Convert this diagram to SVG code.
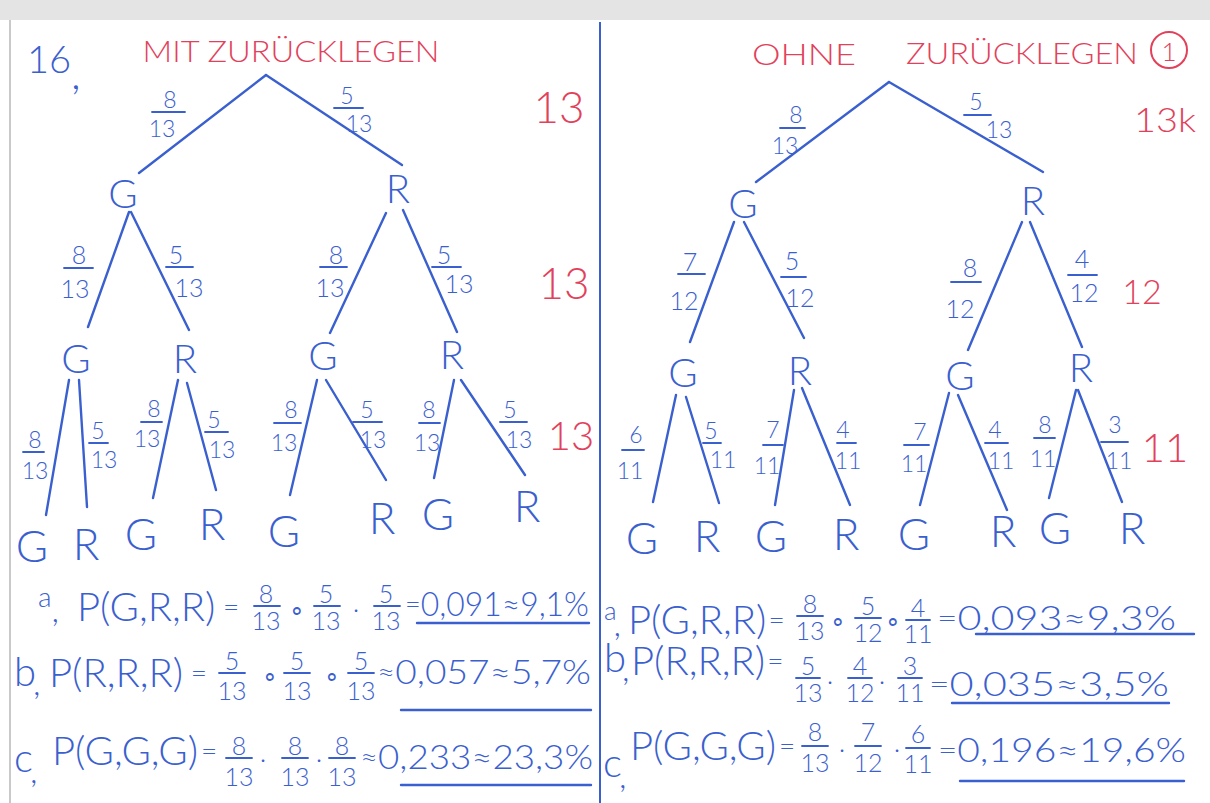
<svg xmlns="http://www.w3.org/2000/svg" width="1210" height="803" viewBox="0 0 1210 803">
<style>
text{font-family:Lato,"Liberation Sans",sans-serif;font-weight:300;text-anchor:middle;dominant-baseline:central}
.s{text-anchor:start}
.b{fill:#3a60cf}
.r{fill:#e2415b}
.n{font-size:40px}
.lf{font-size:44px}
.f{font-size:23px}
.ff{font-size:25px}
.eq{font-size:28px}
.big{font-size:40px}
.res{font-size:33px}
.hk{font-size:34px}
.ln{stroke:#3a60cf;stroke-width:2.4;stroke-linecap:round;fill:none}
.bar{stroke:#3a60cf;stroke-width:1.8;stroke-linecap:round}
.rt{font-size:30px}
</style>
<rect x="0" y="0" width="1210" height="803" fill="#ffffff"/>
<rect x="0" y="0" width="1210" height="20" fill="#e4e4e4"/>
<line x1="10" y1="20" x2="10" y2="803" stroke="#c9c9c9" stroke-width="2"/>
<line x1="600" y1="22" x2="600" y2="803" stroke="#3a60cf" stroke-width="2"/>

<!-- headers -->
<g id="header-left">
<text class="b s" x="27" y="58" style="font-size:38px">16<tspan style="font-size:44px" dy="14">,</tspan></text>
<text class="r rt" x="291" y="50" textLength="297" lengthAdjust="spacingAndGlyphs">MIT ZURÜCKLEGEN</text>
<text class="r" x="559" y="106" style="font-size:44px">13</text>
<text class="r" x="564" y="282" style="font-size:44px">13</text>
<text class="r" x="571" y="435" style="font-size:40px">13</text>
</g>
<g id="header-right">
<text class="r rt" x="804" y="53" textLength="104" lengthAdjust="spacingAndGlyphs">OHNE</text>
<text class="r rt" x="1022" y="52" textLength="232" lengthAdjust="spacingAndGlyphs">ZURÜCKLEGEN</text>
<circle cx="1169" cy="50" r="18" fill="none" stroke="#e2415b" stroke-width="2"/>
<text class="r" x="1169" y="51" style="font-size:26px">1</text>
<text class="r" x="1165" y="118" style="font-size:34px" textLength="62" lengthAdjust="spacingAndGlyphs">13k</text>
<text class="r" x="1142" y="290" style="font-size:34px">12</text>
<text class="r" x="1165" y="447" style="font-size:40px">11</text>
</g>

<!-- connectors -->
<g id="connectors" class="ln">
<line x1="266" y1="75" x2="139" y2="173"/>
<line x1="266" y1="75" x2="402" y2="165"/>
<line x1="129" y1="212" x2="88" y2="327"/>
<line x1="131" y1="212" x2="189" y2="330"/>
<line x1="386" y1="213" x2="330" y2="333"/>
<line x1="403" y1="210" x2="457" y2="332"/>
<line x1="69" y1="380" x2="46" y2="515"/>
<line x1="79" y1="380" x2="87" y2="507"/>
<line x1="178" y1="380" x2="153" y2="498"/>
<line x1="187" y1="383" x2="216" y2="490"/>
<line x1="317" y1="380" x2="290" y2="495"/>
<line x1="326" y1="380" x2="386" y2="480"/>
<line x1="454" y1="380" x2="434" y2="478"/>
<line x1="461" y1="380" x2="525" y2="475"/>
<line x1="889" y1="82" x2="756" y2="182"/>
<line x1="889" y1="82" x2="1043" y2="172"/>
<line x1="734" y1="222" x2="690" y2="342"/>
<line x1="744" y1="222" x2="804" y2="338"/>
<line x1="1022" y1="222" x2="968" y2="350"/>
<line x1="1030" y1="222" x2="1082" y2="347"/>
<line x1="676" y1="395" x2="653" y2="502"/>
<line x1="686" y1="397" x2="719" y2="503"/>
<line x1="794" y1="390" x2="775" y2="505"/>
<line x1="802" y1="388" x2="850" y2="505"/>
<line x1="949" y1="393" x2="920" y2="505"/>
<line x1="958" y1="395" x2="1007" y2="510"/>
<line x1="1076" y1="390" x2="1049" y2="498"/>
<line x1="1078" y1="390" x2="1122" y2="502"/>
</g>

<!-- branch labels -->
<g id="labels-left" class="b f">
<text x="170" y="99">8<tspan x="162" dy="29">13</tspan></text><line class="bar" x1="152" y1="112" x2="185" y2="112"/>
<text x="347" y="95">5<tspan x="359" dy="28">13</tspan></text><line class="bar" x1="334" y1="108" x2="363" y2="108"/>
<text x="79" y="254" class="ff">8<tspan x="75" dy="34">13</tspan></text><line class="bar" x1="64" y1="268" x2="93" y2="268"/>
<text x="176" y="254" class="ff">5<tspan x="189" dy="33">13</tspan></text><line class="bar" x1="166" y1="267" x2="193" y2="267"/>
<text x="336" y="254" class="ff">8<tspan x="330" dy="33">13</tspan></text><line class="bar" x1="320" y1="267" x2="347" y2="267"/>
<text x="444" y="254" class="ff">5<tspan x="459" dy="29">13</tspan></text><line class="bar" x1="432" y1="267" x2="461" y2="267"/>
<text x="35" y="439">8<tspan x="35" dy="31">13</tspan></text><line class="bar" x1="23" y1="452" x2="44" y2="452"/>
<text x="98" y="430">5<tspan x="104" dy="29">13</tspan></text><line class="bar" x1="89" y1="443" x2="108" y2="443"/>
<text x="154" y="408">8<tspan x="147" dy="30">13</tspan></text><line class="bar" x1="141" y1="422" x2="162" y2="422"/>
<text x="214" y="419">5<tspan x="222" dy="30">13</tspan></text><line class="bar" x1="205" y1="432" x2="228" y2="432"/>
<text x="291" y="409">8<tspan x="284" dy="33">13</tspan></text><line class="bar" x1="274" y1="423" x2="301" y2="423"/>
<text x="367" y="409">5<tspan x="373" dy="30">13</tspan></text><line class="bar" x1="353" y1="422" x2="382" y2="422"/>
<text x="429" y="409">8<tspan x="427" dy="33">13</tspan></text><line class="bar" x1="419" y1="423" x2="440" y2="423"/>
<text x="510" y="409">5<tspan x="519" dy="30">13</tspan></text><line class="bar" x1="500" y1="422" x2="527" y2="422"/>
</g>
<g id="labels-right" class="b f">
<text x="796" y="114">8<tspan x="785" dy="31">13</tspan></text><line class="bar" x1="780" y1="128" x2="805" y2="128"/>
<text x="976" y="101">5<tspan x="999" dy="28">13</tspan></text><line class="bar" x1="964" y1="115" x2="991" y2="115"/>
<text x="690" y="261" class="ff">7<tspan x="684" dy="39">12</tspan></text><line class="bar" x1="678" y1="274" x2="705" y2="274"/>
<text x="792" y="260" class="ff">5<tspan x="800" dy="37">12</tspan></text><line class="bar" x1="781" y1="277" x2="806" y2="277"/>
<text x="970" y="267" class="ff">8<tspan x="960" dy="41">12</tspan></text><line class="bar" x1="951" y1="282" x2="981" y2="282"/>
<text x="1082" y="258" class="ff">4<tspan x="1084" dy="34">12</tspan></text><line class="bar" x1="1068" y1="275" x2="1097" y2="275"/>
<text x="636" y="434">6<tspan x="630" dy="36">11</tspan></text><line class="bar" x1="622" y1="450" x2="644" y2="450"/>
<text x="711" y="430">5<tspan x="723" dy="29">11</tspan></text><line class="bar" x1="703" y1="443" x2="721" y2="443"/>
<text x="773" y="429">7<tspan x="767" dy="36">11</tspan></text><line class="bar" x1="763" y1="445" x2="783" y2="445"/>
<text x="843" y="429">4<tspan x="848" dy="31">11</tspan></text><line class="bar" x1="837" y1="443" x2="856" y2="443"/>
<text x="920" y="431">7<tspan x="914" dy="32">11</tspan></text><line class="bar" x1="904" y1="445" x2="929" y2="445"/>
<text x="995" y="429">4<tspan x="1001" dy="31">11</tspan></text><line class="bar" x1="985" y1="443" x2="1008" y2="443"/>
<text x="1045" y="424">8<tspan x="1043" dy="34">11</tspan></text><line class="bar" x1="1034" y1="438" x2="1055" y2="438"/>
<text x="1115" y="424">3<tspan x="1119" dy="36">11</tspan></text><line class="bar" x1="1101" y1="442" x2="1128" y2="442"/>
</g>

<!-- nodes left -->
<g id="L-G" class="b n"><text x="123" y="193">G</text></g>
<g id="L-R" class="b n"><text x="398" y="188">R</text></g>
<g id="L-GG" class="b n"><text x="76" y="358">G</text></g>
<g id="L-GR" class="b n"><text x="185" y="358">R</text></g>
<g id="L-RG" class="b n"><text x="323" y="355">G</text></g>
<g id="L-RR" class="b n"><text x="452" y="354">R</text></g>
<g id="L-GGG" class="b lf"><text x="32" y="545">G</text></g>
<g id="L-GGR" class="b lf"><text x="86" y="543">R</text></g>
<g id="L-GRG" class="b lf"><text x="141" y="533">G</text></g>
<g id="L-GRR" class="b lf"><text x="212" y="523">R</text></g>
<g id="L-RGG" class="b lf"><text x="284" y="530">G</text></g>
<g id="L-RGR" class="b lf"><text x="382" y="517">R</text></g>
<g id="L-RRG" class="b lf"><text x="438" y="513">G</text></g>
<g id="L-RRR" class="b lf"><text x="527" y="505">R</text></g>

<!-- nodes right -->
<g id="R-G" class="b n"><text x="743" y="203">G</text></g>
<g id="R-R" class="b n"><text x="1033" y="200">R</text></g>
<g id="R-GG" class="b n"><text x="683" y="372">G</text></g>
<g id="R-GR" class="b n"><text x="800" y="370">R</text></g>
<g id="R-RG" class="b n"><text x="960" y="375">G</text></g>
<g id="R-RR" class="b n"><text x="1081" y="367">R</text></g>
<g id="R-GGG" class="b lf"><text x="642" y="537">G</text></g>
<g id="R-GGR" class="b lf"><text x="707" y="535">R</text></g>
<g id="R-GRG" class="b lf"><text x="771" y="535">G</text></g>
<g id="R-GRR" class="b lf"><text x="846" y="533">R</text></g>
<g id="R-RGG" class="b lf"><text x="914" y="533">G</text></g>
<g id="R-RGR" class="b lf"><text x="1003" y="530">R</text></g>
<g id="R-RRG" class="b lf"><text x="1055" y="527">G</text></g>
<g id="R-RRR" class="b lf"><text x="1132" y="527">R</text></g>

<!-- formulas left -->
<g id="formula-left-a" class="b">
<text class="s" x="38" y="596" style="font-size:28px">a<tspan class="hk" dy="12">,</tspan><tspan class="big" x="77" dy="-2">P(G,R,R)</tspan><tspan class="eq"> =</tspan></text>
<text class="ff" x="266" y="593">8<tspan x="266" dy="27">13</tspan></text><line class="bar" x1="254" y1="606" x2="280" y2="606"/>
<text class="ff" x="297" y="608">∘</text>
<text class="ff" x="326" y="593">5<tspan x="326" dy="27">13</tspan></text><line class="bar" x1="314" y1="606" x2="340" y2="606"/>
<text class="ff" x="356" y="608">·</text>
<text class="ff" x="386" y="593">5<tspan x="386" dy="27">13</tspan></text><line class="bar" x1="374" y1="606" x2="400" y2="606"/>
<text class="res s" x="405" y="603" textLength="184" lengthAdjust="spacingAndGlyphs"><tspan class="eq">=</tspan>0,091≈9,1%</text>
<line class="ln" x1="417" y1="623" x2="589" y2="623"/>
</g>
<g id="formula-left-b" class="b">
<text class="big s" x="14" y="671">b<tspan class="hk" dx="-3" dy="10">,</tspan><tspan x="49" dy="-9">P(R,R,R)</tspan><tspan class="eq"> =</tspan></text>
<text class="ff" x="232" y="660">5<tspan x="232" dy="30">13</tspan></text><line class="bar" x1="219" y1="673" x2="245" y2="673"/>
<text class="ff" x="270" y="674">∘</text>
<text class="ff" x="297" y="660">5<tspan x="297" dy="30">13</tspan></text><line class="bar" x1="284" y1="673" x2="310" y2="673"/>
<text class="ff" x="332" y="674">∘</text>
<text class="ff" x="361" y="660">5<tspan x="361" dy="30">13</tspan></text><line class="bar" x1="348" y1="673" x2="374" y2="673"/>
<text class="res s" x="377" y="671" textLength="214" lengthAdjust="spacingAndGlyphs"><tspan class="eq">≈</tspan>0,057≈5,7%</text>
<line class="ln" x1="401" y1="710" x2="591" y2="710"/>
</g>
<g id="formula-left-c" class="b">
<text class="big s" x="14" y="757">c<tspan class="hk" dx="-3" dy="12">,</tspan><tspan x="52" dy="-19">P(G,G,G)</tspan><tspan class="eq" dx="3">=</tspan></text>
<text class="ff" x="239" y="745">8<tspan x="239" dy="31">13</tspan></text><line class="bar" x1="226" y1="758" x2="252" y2="758"/>
<text class="ff" x="263" y="758">·</text>
<text class="ff" x="295" y="745">8<tspan x="295" dy="31">13</tspan></text><line class="bar" x1="282" y1="758" x2="308" y2="758"/>
<text class="ff" x="319" y="758">·</text>
<text class="ff" x="342" y="745">8<tspan x="342" dy="31">13</tspan></text><line class="bar" x1="329" y1="758" x2="355" y2="758"/>
<text class="res s" x="360" y="756" textLength="233" lengthAdjust="spacingAndGlyphs"><tspan class="eq">≈</tspan>0,233≈23,3%</text>
<line class="ln" x1="401" y1="785" x2="591" y2="785"/>
</g>

<!-- formulas right -->
<g id="formula-right-a" class="b">
<text class="s" x="604" y="610" style="font-size:26px">a<tspan class="hk" dx="-3" dy="12">,</tspan><tspan class="big" x="628" dy="-3">P(G,R,R)</tspan><tspan class="eq" dx="2">=</tspan></text>
<text class="ff" x="810" y="603">8<tspan x="810" dy="27">13</tspan></text><line class="bar" x1="797" y1="616" x2="823" y2="616"/>
<text class="ff" x="838" y="619">∘</text>
<text class="ff" x="868" y="605">5<tspan x="868" dy="27">12</tspan></text><line class="bar" x1="855" y1="618" x2="881" y2="618"/>
<text class="ff" x="893" y="619">∘</text>
<text class="ff" x="918" y="607">4<tspan x="918" dy="26">11</tspan></text><line class="bar" x1="906" y1="620" x2="930" y2="620"/>
<text class="res s" x="937" y="617" textLength="239" lengthAdjust="spacingAndGlyphs"><tspan class="eq">=</tspan>0,093≈9,3%</text>
<line class="ln" x1="976" y1="634" x2="1194" y2="634"/>
</g>
<g id="formula-right-b" class="b">
<text class="big s" x="604" y="657">b<tspan class="hk" dx="-4" dy="10">,</tspan><tspan x="631" dy="-7">P(R,R,R)</tspan><tspan class="eq" dx="2">=</tspan></text>
<text class="ff" x="808" y="665">5<tspan x="808" dy="27">13</tspan></text><line class="bar" x1="796" y1="678" x2="820" y2="678"/>
<text class="ff" x="830" y="680">·</text>
<text class="ff" x="860" y="665">4<tspan x="860" dy="27">12</tspan></text><line class="bar" x1="848" y1="678" x2="872" y2="678"/>
<text class="ff" x="882" y="680">·</text>
<text class="ff" x="910" y="665">3<tspan x="910" dy="27">11</tspan></text><line class="bar" x1="898" y1="678" x2="922" y2="678"/>
<text class="res s" x="929" y="683" textLength="240" lengthAdjust="spacingAndGlyphs"><tspan class="eq">=</tspan>0,035≈3,5%</text>
<line class="ln" x1="952" y1="703" x2="1169" y2="703"/>
</g>
<g id="formula-right-c" class="b">
<text class="big s" x="603" y="762">c<tspan class="hk" dx="-3" dy="12">,</tspan><tspan x="630" dy="-29">P(G,G,G)</tspan><tspan class="eq" dx="3">=</tspan></text>
<text class="ff" x="815" y="731">8<tspan x="815" dy="31">13</tspan></text><line class="bar" x1="802" y1="746" x2="828" y2="746"/>
<text class="ff" x="842" y="748">·</text>
<text class="ff" x="868" y="731">7<tspan x="868" dy="31">12</tspan></text><line class="bar" x1="855" y1="746" x2="881" y2="746"/>
<text class="ff" x="897" y="748">·</text>
<text class="ff" x="918" y="733">6<tspan x="918" dy="30">11</tspan></text><line class="bar" x1="906" y1="748" x2="930" y2="748"/>
<text class="res s" x="938" y="749" textLength="248" lengthAdjust="spacingAndGlyphs"><tspan class="eq">=</tspan>0,196≈19,6%</text>
<line class="ln" x1="960" y1="781" x2="1184" y2="781"/>
</g>
</svg>
